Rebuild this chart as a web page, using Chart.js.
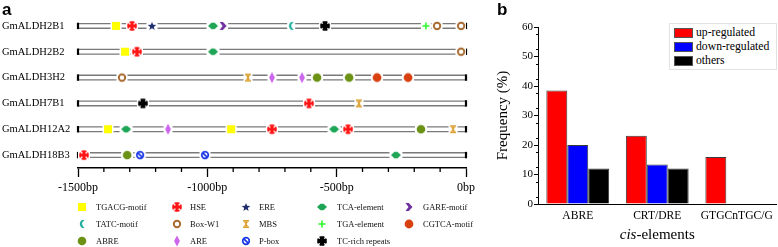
<!DOCTYPE html>
<html><head><meta charset="utf-8">
<script src="https://cdn.jsdelivr.net/npm/chart.js@4.4.1/dist/chart.umd.min.js"></script>
<style>
html,body{margin:0;padding:0;background:#fff;}
body{width:778px;height:247px;position:relative;overflow:hidden;font-family:'Liberation Serif',serif;}
.panel{position:absolute;font:bold 17px 'Liberation Sans',Arial,sans-serif;line-height:17px;color:#000}
#cA{position:absolute;left:0;top:0}
#cB{position:absolute;left:470px;top:0}
.li{position:absolute}
.lt{position:absolute;font-family:'Liberation Serif',serif;font-size:8.5px;line-height:10px;white-space:nowrap;color:#111}
#legB{position:absolute;left:669px;top:23px;width:106px;height:45px;border:1px solid #e2e2e2;background:#fff}
.sw{position:absolute;left:4px;width:17px;height:8px;border:1px solid #555}
.st{position:absolute;left:26px;font-family:'Liberation Serif',serif;font-size:11.7px;line-height:14px;white-space:nowrap;color:#000}
</style></head>
<body>
<canvas id="cA" width="480" height="200"></canvas>
<canvas id="cB" width="308" height="247"></canvas>
<div class="panel" style="left:2px;top:1px">a</div>
<div class="panel" style="left:497px;top:1px">b</div>
<div id="legA"></div>
<div id="legB"></div>
<script>
// ---------- Panel a data ----------
const genes = ['GmALDH2B1','GmALDH2B2','GmALDH3H2','GmALDH7B1','GmALDH12A2','GmALDH18B3'];
const elementNames = ['TGACG-motif','HSE','ERE','TCA-element','GARE-motif','TATC-motif','Box-W1','MBS','TGA-element','CGTCA-motif','ABRE','ARE','P-box','TC-rich repeats'];
const promoterStart = -1500;
const promoterEnd = 0;
const positionStep = 100;
const labelStep = 500;

const sites_GmALDH2B1 = [['TGACG-motif',-1353],['HSE',-1291],['ERE',-1214],['TCA-element',-978],['GARE-motif',-939],['TATC-motif',-676],['TC-rich repeats',-545],['TGA-element',-155],['Box-W1',-112],['Box-W1',-19]];
const sites_GmALDH2B2 = [['TGACG-motif',-1318],['HSE',-1272],['TCA-element',-978],['Box-W1',-19]];
const sites_GmALDH3H2 = [['Box-W1',-1330],['MBS',-843],['ARE',-750],['ARE',-634],['ABRE',-576],['ABRE',-452],['CGTCA-motif',-344],['CGTCA-motif',-224]];
const sites_GmALDH7B1 = [['TC-rich repeats',-1249],['HSE',-607],['MBS',-414]];
const sites_GmALDH12A2 = [['TGACG-motif',-1384],['TCA-element',-1314],['ARE',-1152],['TGACG-motif',-908],['HSE',-750],['TCA-element',-510],['HSE',-456],['ABRE',-174],['MBS',-50]];
const sites_GmALDH18B3 = [['HSE',-1477],['ABRE',-1310],['P-box',-1260],['P-box',-1009],['TCA-element',-271]];
const siteLists = [sites_GmALDH2B1,sites_GmALDH2B2,sites_GmALDH3H2,sites_GmALDH7B1,sites_GmALDH12A2,sites_GmALDH18B3];

// ---------- Panel b data ----------
const cisCategories = ['ABRE','CRT/DRE','GTGCnTGC/G'];
const upRegulated = [38.5, 23.1, 15.9];
const downRegulated = [20.0, 13.4, 0];
const othersFreq = [12.0, 12.0, 0];
const freqMin = 0, freqMax = 60, freqStep = 5;

// ---------- marker icons ----------
const markerColors = {
  'TGACG-motif':'#ffff00','HSE':'#ff1414','ERE':'#1f2d6e','TCA-element':'#1ea555','GARE-motif':'#7030a0',
  'TATC-motif':'#1fae9e','Box-W1':'#a8692d','MBS':'#dba133','TGA-element':'#33f533','CGTCA-motif':'#d8410f',
  'ABRE':'#6b9115','ARE':'#cc66ee','P-box':'#1a38e6','TC-rich repeats':'#000000'
};
function poly(g,pts){g.beginPath();g.moveTo(pts[0][0],pts[0][1]);for(let i=1;i<pts.length;i++)g.lineTo(pts[i][0],pts[i][1]);g.closePath();g.fill();}
function pattee(g,c,arm,endw,half){
  g.fillRect(c-half,c-arm/2,2*half,arm);g.fillRect(c-arm/2,c-half,arm,2*half);
  g.fillRect(c-half,c-endw/2,1.6,endw);g.fillRect(c+half-1.6,c-endw/2,1.6,endw);
  g.fillRect(c-endw/2,c-half,endw,1.6);g.fillRect(c-endw/2,c+half-1.6,endw,1.6);
}
const drawers = {
  'TGACG-motif':[8,(g,c)=>{g.fillRect(c-4,c-4,8,8);}],
  'HSE':[9,(g,c)=>{pattee(g,c,3,5,4.5);}],
  'ERE':[8,(g,c)=>{g.beginPath();for(let i=0;i<10;i++){const r=i%2?1.9:4.5;const a=-Math.PI/2+i*Math.PI/5;const x=c+r*Math.cos(a),y=c+0.4+r*Math.sin(a);i?g.lineTo(x,y):g.moveTo(x,y);}g.closePath();g.fill();}],
  'TCA-element':[10,(g,c)=>{poly(g,[[c-5,c],[c-1.5,c-3.3],[c+1.5,c-3.3],[c+5,c],[c+1.5,c+3.3],[c-1.5,c+3.3]]);}],
  'GARE-motif':[7,(g,c)=>{poly(g,[[c-3.5,c-4],[c-0.2,c-4],[c+3.5,c],[c-0.2,c+4],[c-3.5,c+4],[c-0.5,c]]);}],
  'TATC-motif':[5,(g,c)=>{g.beginPath();g.arc(c+2,c,4.2,0.55*Math.PI,1.45*Math.PI);g.arc(c+3.6,c,3.4,1.38*Math.PI,0.62*Math.PI,true);g.closePath();g.fill();}],
  'Box-W1':[8,(g,c)=>{g.lineWidth=1.9;g.beginPath();g.arc(c,c,3.2,0,2*Math.PI);g.stroke();}],
  'MBS':[6,(g,c)=>{g.fillRect(c-3,c-4,6,1.6);g.fillRect(c-3,c+2.4,6,1.6);poly(g,[[c-2.3,c-2.5],[c+2.3,c-2.5],[c+0.7,c],[c+2.3,c+2.5],[c-2.3,c+2.5],[c-0.7,c]]);}],
  'TGA-element':[7,(g,c)=>{g.fillRect(c-3.5,c-0.8,7,1.6);g.fillRect(c-0.8,c-3.5,1.6,7);}],
  'CGTCA-motif':[9,(g,c)=>{g.beginPath();g.arc(c,c,4.4,0,2*Math.PI);g.fill();}],
  'ABRE':[9,(g,c)=>{g.beginPath();g.arc(c,c,4.3,0,2*Math.PI);g.fill();}],
  'ARE':[6,(g,c)=>{poly(g,[[c,c-5.5],[c+2.9,c],[c,c+5.5],[c-2.9,c]]);}],
  'P-box':[8,(g,c)=>{g.lineWidth=1.7;g.beginPath();g.arc(c,c,3.3,0,2*Math.PI);g.stroke();g.beginPath();g.moveTo(c-2.2,c-2.2);g.lineTo(c+2.2,c+2.2);g.stroke();}],
  'TC-rich repeats':[9,(g,c)=>{pattee(g,c,4,5,4.5);g.beginPath();g.arc(c,c,3.1,0,2*Math.PI);g.fill();}]
};
function makeIcon(name, halo){
  const cv=document.createElement('canvas');cv.width=16;cv.height=16;
  const g=cv.getContext('2d');const c=8;const [w,fn]=drawers[name];
  if(halo){g.fillStyle='#fff';g.fillRect(c-w/2-1.5,c-4,w+3,8);}
  g.fillStyle=markerColors[name];g.strokeStyle=markerColors[name];
  fn(g,c);return cv;
}
const icons={};elementNames.forEach(n=>icons[n]=makeIcon(n,true));

// ---------- Chart a ----------
const markerDatasets = elementNames.map(name=>({
  label:name,
  data:genes.flatMap((gn,i)=>siteLists[i].filter(s=>s[0]===name).map(s=>({x:s[1],y:gn}))),
  pointStyle:icons[name],pointRadius:5,showLine:false
}));
const whiteLines = genes.map(gn=>({
  label:gn+' line',data:[{x:promoterStart,y:gn},{x:promoterEnd,y:gn}],showLine:true,
  borderColor:'#ffffff',borderWidth:3.4,pointStyle:'line',pointRotation:90,rotation:90,
  pointRadius:3.2,pointBorderWidth:2.2,pointBorderColor:'#000',pointBackgroundColor:'#000',clip:false
}));
const grayLines = genes.map(gn=>({
  label:gn+' outline',data:[{x:promoterStart,y:gn},{x:promoterEnd,y:gn}],showLine:true,
  borderColor:'#7a7a7a',borderWidth:6,pointRadius:0,clip:false
}));
const minorTicksA={id:'minorA',afterDraw(chart){const s=chart.scales.x,ctx=chart.ctx;ctx.save();ctx.strokeStyle='#000';ctx.lineWidth=1.3;
  for(const t of s.ticks){if(t.value%labelStep!==0){const x=s.getPixelForValue(t.value);ctx.beginPath();ctx.moveTo(x,s.top);ctx.lineTo(x,s.top+4);ctx.stroke();}}ctx.restore();}};
new Chart(document.getElementById('cA'),{
  type:'scatter',
  data:{datasets:[...markerDatasets,...whiteLines,...grayLines]},
  options:{
    responsive:false,devicePixelRatio:1,animation:false,
    layout:{padding:{left:2,top:13,right:14,bottom:0}},
    plugins:{legend:{display:false},tooltip:{enabled:false}},
    scales:{
      x:{type:'linear',min:promoterStart,max:promoterEnd,
        ticks:{stepSize:positionStep,maxTicksLimit:100,autoSkip:false,maxRotation:0,padding:4,color:'#000',
          font:{family:"'Liberation Serif', serif",size:12},callback:v=>(v%labelStep===0?v+'bp':'')},
        grid:{display:true,drawOnChartArea:false,tickLength:9,tickWidth:1.3,
          tickColor:ctx=>(ctx.tick&&ctx.tick.value%labelStep===0)?'#000':'rgba(0,0,0,0)'},
        border:{display:true,color:'#000',width:1.5},
        afterFit:s=>{s.height=32;}},
      y:{type:'category',labels:genes,offset:true,
        grid:{display:false},border:{display:false},
        ticks:{crossAlign:'far',color:'#000',font:{family:"'Liberation Serif', serif",size:10.5},padding:0},
        afterFit:s=>{s.width=76;}}
    }
  },
  plugins:[minorTicksA]
});

// legend a
const legA=document.getElementById('legA');
const legColX=[82,177,246,322,409], legTextX=[96,190,259,337,423], legRowY=[207,224,241];
elementNames.forEach((n,i)=>{
  const col=i%5,row=Math.floor(i/5);
  const ic=makeIcon(n,false);ic.className='li';ic.style.left=(legColX[col]-8)+'px';ic.style.top=(legRowY[row]-8)+'px';legA.appendChild(ic);
  const t=document.createElement('div');t.className='lt';t.textContent=n;t.style.left=legTextX[col]+'px';t.style.top=(legRowY[row]-5)+'px';legA.appendChild(t);
});

// ---------- Chart b ----------
const minorTicksB={id:'minorB',afterDraw(chart){const s=chart.scales.y,ctx=chart.ctx;ctx.save();ctx.strokeStyle='#000';ctx.lineWidth=1;
  for(let v=freqMin+freqStep/2;v<freqMax;v+=freqStep){const y=Math.round(s.getPixelForValue(v))+0.5;ctx.beginPath();ctx.moveTo(s.right-2,y);ctx.lineTo(s.right,y);ctx.stroke();}ctx.restore();}};
const xTitleB={id:'xTitleB',afterDraw(chart){const a=chart.chartArea,ctx=chart.ctx;const y=a.bottom+31;ctx.save();ctx.fillStyle='#000';ctx.textBaseline='middle';ctx.textAlign='left';
  const fi="italic 15px 'Liberation Serif', serif",fn="15px 'Liberation Serif', serif";
  ctx.font=fi;const w1=ctx.measureText('cis').width;ctx.font=fn;const w2=ctx.measureText('-elements').width;
  const x=(a.left+a.right)/2-(w1+w2)/2;ctx.font=fi;ctx.fillText('cis',x,y);ctx.font=fn;ctx.fillText('-elements',x+w1,y);ctx.restore();}};
const chartB=new Chart(document.getElementById('cB'),{
  type:'bar',
  data:{labels:cisCategories,datasets:[
    {label:'up-regulated',data:upRegulated,backgroundColor:'#ff0000',borderColor:'#3a3a3a',borderWidth:1},
    {label:'down-regulated',data:downRegulated,backgroundColor:'#0000ff',borderColor:'#3a3a3a',borderWidth:1},
    {label:'others',data:othersFreq,backgroundColor:'#000000',borderColor:'#3a3a3a',borderWidth:1}
  ]},
  options:{
    responsive:false,devicePixelRatio:1,animation:false,
    layout:{padding:{left:0,top:27,right:1,bottom:0}},
    datasets:{bar:{categoryPercentage:0.79,barPercentage:1}},
    plugins:{legend:{display:false},tooltip:{enabled:false}},
    scales:{
      x:{grid:{display:false,drawTicks:false},border:{display:true,color:'#000',width:1},
        ticks:{padding:5,color:'#000',font:{family:"'Liberation Serif', serif",size:11.6},autoSkip:false,maxRotation:0},
        afterFit:s=>{s.height=43;}},
      y:{min:freqMin,max:freqMax,
        ticks:{stepSize:freqStep,maxTicksLimit:100,color:'#000',font:{family:"'Liberation Serif', serif",size:11},padding:1},
        grid:{display:true,drawOnChartArea:false,tickLength:4,color:'#000',tickColor:'#000'},
        border:{display:true,color:'#000',width:1},
        title:{display:true,text:'Frequency (%)',color:'#000',font:{family:"'Liberation Serif', serif",size:15},padding:{top:24,bottom:0}},
        afterFit:s=>{s.width=68;}}
    }
  },
  plugins:[minorTicksB,xTitleB]
});
// legend b
const legB=document.getElementById('legB');
chartB.data.datasets.forEach((d,i)=>{
  const sw=document.createElement('div');sw.className='sw';sw.style.background=d.backgroundColor;sw.style.top=(4+i*14)+'px';legB.appendChild(sw);
  const t=document.createElement('div');t.className='st';t.textContent=d.label;t.style.top=(2+i*14)+'px';legB.appendChild(t);
});
</script>
</body></html>
